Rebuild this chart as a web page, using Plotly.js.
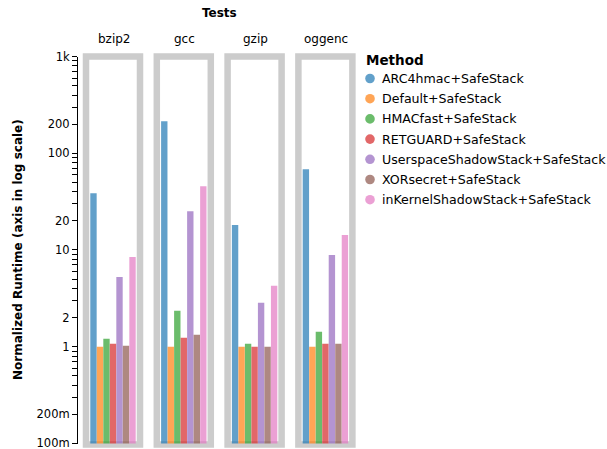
<!DOCTYPE html>
<html>
<head>
<meta charset="utf-8">
<script src="https://cdn.plot.ly/plotly-3.0.1.min.js"></script>
<style>html,body{margin:0;padding:0;background:#fff;}#chart{width:607px;height:449px;}</style>
</head>
<body>
<div id="chart"></div>
<script>
// ---- data ----
const tests = ["bzip2", "gcc", "gzip", "oggenc"];
const methods = ["ARC4hmac+SafeStack", "Default+SafeStack", "HMACfast+SafeStack", "RETGUARD+SafeStack",
  "UserspaceShadowStack+SafeStack", "XORsecret+SafeStack", "inKernelShadowStack+SafeStack"];
const bzip2Values  = [38.7, 1.0, 1.21, 1.07, 5.26, 1.02, 8.47];
const gccValues    = [214, 1.0, 2.35, 1.24, 25.2, 1.33, 45.7];
const gzipValues   = [18.1, 1.0, 1.07, 1.0, 2.84, 1.0, 4.26];
const oggencValues = [68.4, 1.0, 1.43, 1.07, 8.88, 1.07, 14.3];
const yTickVals = [0.1,0.2,0.3,0.4,0.5,0.6,0.7,0.8,0.9,1,2,3,4,5,6,7,8,9,10,20,30,40,50,60,70,80,90,100,200,300,400,500,600,700,800,900,1000];
const yTickText = ["100m","200m","","","","","","","","1","2","","","","","","","","10","20","","","","","","","","100","200","","","","","","","","1k"];

// ---- styling ----
const colors = ["#1f77b4","#ff7f0e","#2ca02c","#d62728","#9467bd","#8c564b","#e377c2"];
const W = 607, H = 449;
const FONT = "DejaVu Sans, sans-serif";
const seriesByTest = [bzip2Values, gccValues, gzipValues, oggencValues];
const facetLeft = [86, 156.8, 227.6, 298.4];
const facetW = 54;
const plotTop = 56.5, plotBottom = 443.5;
const yDom = [(H - plotBottom) / H, (H - plotTop) / H];

const traces = [];
const layout = {
  width: W, height: H,
  margin: {l: 0, r: 0, t: 0, b: 0},
  paper_bgcolor: "#fff",
  plot_bgcolor: "rgba(0,0,0,0)",
  showlegend: false,
  bargap: 0.02,
  font: {family: FONT, color: "#000", size: 12},
  yaxis: {
    type: "log", range: [-1.0008, 3.0004], domain: yDom,
    anchor: "free", position: 77 / W,
    tickmode: "array", tickvals: yTickVals, ticktext: yTickText,
    ticks: "outside", ticklen: 5, tickcolor: "#000", tickwidth: 1,
    showline: true, linecolor: "#000", linewidth: 1,
    showgrid: false, zeroline: false,
    ticklabeloverflow: "allow",
    tickfont: {family: FONT, size: 11.5, color: "#000"},
    fixedrange: true
  },
  shapes: [],
  annotations: []
};

tests.forEach((t, i) => {
  const ax = i === 0 ? "x" : "x" + (i + 1);
  const axKey = i === 0 ? "xaxis" : "xaxis" + (i + 1);
  const d0 = facetLeft[i] / W, d1 = (facetLeft[i] + facetW) / W;
  layout[axKey] = {
    domain: [d0, d1], anchor: "y", type: "category",
    range: [-1.15, 7.15], showticklabels: false, ticks: "",
    showgrid: false, zeroline: false, showline: false, fixedrange: true
  };
  traces.push({
    type: "bar", x: methods, y: seriesByTest[i], xaxis: ax, yaxis: "y",
    marker: {color: colors, opacity: 0.7, line: {width: 0}},
    hoverinfo: "skip"
  });
  layout.shapes.push({
    type: "rect", xref: "paper", yref: "paper", layer: "below",
    x0: d0, x1: d1, y0: yDom[0] - 1 / H, y1: yDom[1],
    line: {color: "#cccccc", width: 6.5}, fillcolor: "rgba(0,0,0,0)"
  });
  layout.annotations.push({
    text: t, xref: "paper", yref: "paper",
    x: (facetLeft[i] + facetW / 2 + 1) / W, y: (H - 39) / H,
    xanchor: "center", yanchor: "middle", showarrow: false,
    font: {family: FONT, size: 12, color: "#000"}
  });
});

// header and axis title
layout.annotations.push({
  text: "<b>Tests</b>", xref: "paper", yref: "paper",
  x: 219 / W, y: (H - 13) / H, xanchor: "center", yanchor: "middle",
  showarrow: false, font: {family: FONT, size: 12, color: "#000"}
});
layout.annotations.push({
  text: "<b>Normalized Runtime (axis in log scale)</b>", xref: "paper", yref: "paper",
  x: 18 / W, y: (H - 250) / H, xanchor: "center", yanchor: "middle", textangle: -90,
  showarrow: false, font: {family: FONT, size: 12, color: "#000"}
});

// legend
layout.annotations.push({
  text: "<b>Method</b>", xref: "paper", yref: "paper",
  x: 364 / W, y: (H - 60) / H, xanchor: "left", yanchor: "middle",
  showarrow: false, font: {family: FONT, size: 13.5, color: "#000"}
});
methods.forEach((m, k) => {
  const cy = 78.5 + k * 20.2;
  layout.shapes.push({
    type: "circle", xref: "paper", yref: "paper", layer: "above",
    x0: (370 - 4.8) / W, x1: (370 + 4.8) / W,
    y0: (H - cy - 4.8) / H, y1: (H - cy + 4.8) / H,
    fillcolor: colors[k], opacity: 0.7, line: {width: 0}
  });
  layout.annotations.push({
    text: m, xref: "paper", yref: "paper",
    x: 380 / W, y: (H - cy) / H, xanchor: "left", yanchor: "middle",
    showarrow: false, font: {family: FONT, size: 12.6, color: "#000"}
  });
});

Plotly.newPlot("chart", traces, layout, {staticPlot: true, displayModeBar: false});
</script>
</body>
</html>
